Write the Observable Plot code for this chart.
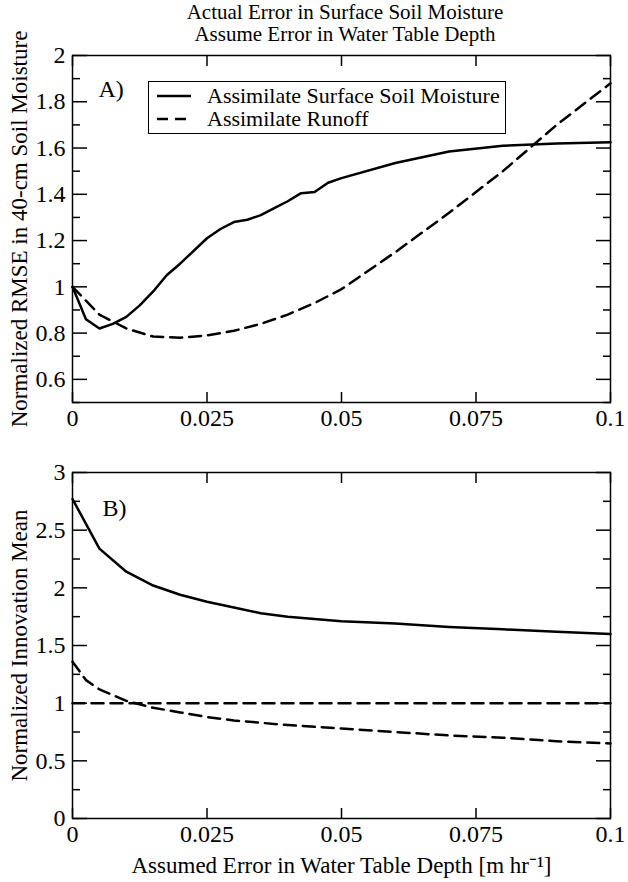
<!DOCTYPE html>
<html><head><meta charset="utf-8">
<script src="https://cdn.jsdelivr.net/npm/d3@7"></script>
<script src="https://cdn.jsdelivr.net/npm/@observablehq/plot@0.6"></script>
<style>
body{margin:0;background:#fff;font-family:"Liberation Serif",serif}
#wrap{position:relative;width:628px}
#title{position:absolute;left:0;top:0;width:628px;text-align:center;font-size:21px;line-height:22px;padding-top:1px;box-sizing:border-box;padding-left:62px}
#legend{position:absolute;left:148px;top:81px;width:358px;height:53px;border:1.5px solid #000;background:#fff;font-size:22px;box-sizing:border-box;padding-top:2px}
#legend div{display:flex;align-items:center;height:23px;padding-left:8px}
#legend svg{margin-right:16px}
#top svg,#bot svg{overflow:visible;display:block}
</style></head>
<body><div id="wrap">
<div id="top"></div><div id="bot"></div>
<div id="title">Actual Error in Surface Soil Moisture<br>Assume Error in Water Table Depth</div>
<div id="legend">
<div><svg width="34" height="4"><line x1="0" x2="34" y1="2" y2="2" stroke="#000" stroke-width="2.5"/></svg>Assimilate Surface Soil Moisture</div>
<div><svg width="34" height="4"><line x1="0" x2="34" y1="2" y2="2" stroke="#000" stroke-width="2.5" stroke-dasharray="11,7"/></svg>Assimilate Runoff</div>
</div>
</div>
<script>
const xTicks = [0, 0.025, 0.05, 0.075, 0.1];
const xLabels = ["0", "0.025", "0.05", "0.075", "0.1"];

const aSoilX = [0, 0.0025, 0.005, 0.0075, 0.01, 0.0125, 0.015, 0.0175, 0.02, 0.025, 0.0275, 0.03, 0.0325, 0.035, 0.0375, 0.04, 0.0425, 0.045, 0.0475, 0.05, 0.06, 0.07, 0.08, 0.09, 0.1];
const aSoilY = [1.0, 0.86, 0.82, 0.84, 0.87, 0.92, 0.98, 1.05, 1.10, 1.21, 1.25, 1.28, 1.29, 1.31, 1.34, 1.37, 1.405, 1.41, 1.45, 1.47, 1.535, 1.585, 1.61, 1.62, 1.625];
const aRunX = [0, 0.005, 0.01, 0.015, 0.02, 0.025, 0.03, 0.035, 0.04, 0.045, 0.05, 0.06, 0.07, 0.08, 0.09, 0.1];
const aRunY = [1.0, 0.88, 0.82, 0.785, 0.78, 0.79, 0.81, 0.84, 0.88, 0.93, 0.99, 1.15, 1.32, 1.50, 1.70, 1.88];

const bSoilX = [0, 0.005, 0.01, 0.015, 0.02, 0.025, 0.03, 0.035, 0.04, 0.045, 0.05, 0.06, 0.07, 0.08, 0.09, 0.1];
const bSoilY = [2.77, 2.34, 2.14, 2.02, 1.94, 1.88, 1.83, 1.78, 1.75, 1.73, 1.71, 1.69, 1.66, 1.64, 1.62, 1.6];
const bRunX = [0, 0.0025, 0.005, 0.01, 0.015, 0.02, 0.025, 0.03, 0.04, 0.05, 0.06, 0.07, 0.08, 0.09, 0.1];
const bRunY = [1.36, 1.2, 1.12, 1.02, 0.96, 0.92, 0.88, 0.85, 0.81, 0.78, 0.75, 0.72, 0.70, 0.67, 0.65];
const refX = [0, 0.1];
const refY = [1, 1];

const topMajor = [0.6, 0.8, 1, 1.2, 1.4, 1.6, 1.8, 2];
const topMinor = [0.5, 0.7, 0.9, 1.1, 1.3, 1.5, 1.7, 1.9];
const botMajor = [0, 0.5, 1, 1.5, 2, 2.5, 3];
const botMinor = [0.25, 0.75, 1.25, 1.75, 2.25, 2.75];

const pts = (xs, ys) => xs.map((x, i) => ({x, y: ys[i]}));
const fmtX = d => xLabels[xTicks.indexOf(d)] ?? "";
const fmtY = d => String(d);

function frameAxes(major, minor, xLabel, yLabel) {
  return [
    Plot.axisX(xTicks, {anchor: "bottom", tickSize: 0, tickPadding: 6, tickFormat: fmtX, label: xLabel, labelAnchor: "center", labelArrow: "none", labelOffset: 54}),
    Plot.axisX(xTicks, {anchor: "bottom", tickSize: -10, tickFormat: () => "", strokeWidth: 1.5, label: null}),
    Plot.axisX(xTicks, {anchor: "top", tickSize: -10, tickFormat: () => "", strokeWidth: 1.5, label: null}),
    Plot.axisY(major, {anchor: "left", tickSize: 0, tickPadding: 7, tickFormat: fmtY, label: yLabel, labelAnchor: "center", labelArrow: "none", labelOffset: 62}),
    Plot.axisY(major, {anchor: "left", tickSize: -15, tickFormat: () => "", strokeWidth: 1.5, label: null}),
    Plot.axisY(minor, {anchor: "left", tickSize: -8, tickFormat: () => "", strokeWidth: 1.5, label: null}),
    Plot.axisY(major, {anchor: "right", tickSize: -15, tickFormat: () => "", strokeWidth: 1.5, label: null}),
    Plot.axisY(minor, {anchor: "right", tickSize: -8, tickFormat: () => "", strokeWidth: 1.5, label: null}),
    Plot.frame({strokeWidth: 1.5})
  ];
}

// axis titles slightly smaller than tick labels
function styleText(svg) {
  d3.select(svg).style("font-family", "Liberation Serif, serif");
  d3.select(svg).selectAll("text").each(function () {
    const t = d3.select(this);
    const s = t.text();
    t.attr("font-size", /[A-Za-z]/.test(s) && s.length > 3 ? 23 : 24);
  });
  return svg;
}

const topChart = Plot.plot({
  width: 628, height: 440,
  marginTop: 55, marginLeft: 72, marginRight: 18, marginBottom: 38,
  x: {domain: [0, 0.1]},
  y: {domain: [0.5, 2]},
  marks: [
    Plot.line(pts(aSoilX, aSoilY), {x: "x", y: "y", stroke: "#000", strokeWidth: 2.5}),
    Plot.line(pts(aRunX, aRunY), {x: "x", y: "y", stroke: "#000", strokeWidth: 2.5, strokeDasharray: "12,7"}),
    Plot.text(["A)"], {frameAnchor: "top-left", dx: 26, dy: 24}),
    ...frameAxes(topMajor, topMinor, null, "Normalized RMSE in 40-cm Soil Moisture")
  ]
});
document.getElementById("top").appendChild(styleText(topChart));

const botChart = Plot.plot({
  width: 628, height: 442,
  marginTop: 32, marginLeft: 72, marginRight: 18, marginBottom: 64,
  x: {domain: [0, 0.1]},
  y: {domain: [0, 3]},
  marks: [
    Plot.line(pts(bSoilX, bSoilY), {x: "x", y: "y", stroke: "#000", strokeWidth: 2.5}),
    Plot.line(pts(bRunX, bRunY), {x: "x", y: "y", stroke: "#000", strokeWidth: 2.5, strokeDasharray: "12,7"}),
    Plot.line(pts(refX, refY), {x: "x", y: "y", stroke: "#000", strokeWidth: 2.5, strokeDasharray: "12,7"}),
    Plot.text(["B)"], {frameAnchor: "top-left", dx: 30, dy: 26}),
    ...frameAxes(botMajor, botMinor, "Assumed Error in Water Table Depth [m hr⁻¹]", "Normalized Innovation Mean")
  ]
});
document.getElementById("bot").appendChild(styleText(botChart));
</script>
</body></html>
